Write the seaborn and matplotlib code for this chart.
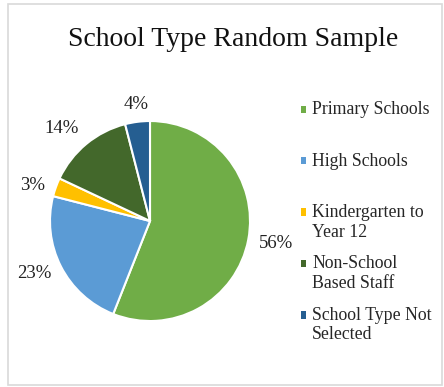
import numpy as np
import seaborn as sns
import matplotlib.pyplot as plt
from matplotlib.patches import Patch, Rectangle
from matplotlib.legend_handler import HandlerPatch

categories = ['Primary Schools', 'High Schools', 'Kindergarten to\nYear 12',
              'Non-School\nBased Staff', 'School Type Not\nSelected']
shares = [56, 23, 3, 14, 4]
colors = ['#70AD47', '#5B9BD5', '#FFC000', '#43682B', '#255E91']

sns.set_theme(style='white')
plt.rcParams['font.family'] = ['Liberation Serif', 'DejaVu Serif']

fig = plt.figure(figsize=(4.44, 3.87), dpi=100)
ax = fig.add_axes([0.1126, 0.1705, 0.4505, 0.5168])

wedges, _ = ax.pie(
    shares,
    colors=sns.color_palette(colors),
    startangle=90,
    counterclock=False,
    wedgeprops=dict(edgecolor='white', linewidth=1.5),
)
ax.set_xlim(-1, 1)
ax.set_ylim(-1, 1)

# data labels just outside each slice, like Excel's "outside end"
for w, s in zip(wedges, shares):
    ang = np.deg2rad((w.theta1 + w.theta2) / 2)
    dx, dy = np.cos(ang), np.sin(ang)
    ha = 'left' if dx > 0.3 else 'right' if dx < -0.3 else 'center'
    va = 'bottom' if dy > 0.5 else 'top' if dy < -0.5 else 'center'
    ax.annotate(f'{s}%', xy=(dx, dy), xytext=(8 * dx, 8 * dy - 1.5),
                textcoords='offset points', ha=ha, va=va,
                fontsize=13.5, color='#222222')

fig.text(0.525, 0.897, 'School Type Random Sample', ha='center', va='center',
         fontsize=20, color='#111111')


def top_square(legend, orig_handle, xdescent, ydescent, width, height, fontsize):
    # put the marker next to the first line of the label
    return Rectangle((-xdescent, -ydescent + 7.5), width, height)


# every label gets two lines so the entries are evenly spaced
labels = [c if '\n' in c else c + '\n' for c in categories]
handles = [Patch(facecolor=c, edgecolor='none') for c in colors]
fig.legend(handles, labels, loc='upper left', bbox_to_anchor=(0.642, 0.7795),
           frameon=False, fontsize=12.8, handlelength=0.28, handleheight=0.28,
           handletextpad=0.34, labelspacing=0.83,
           handler_map={Patch: HandlerPatch(patch_func=top_square)})

fig.patches.append(Rectangle((0.018, 0.005), 0.978, 0.985, transform=fig.transFigure,
                             fill=False, edgecolor='#d9d9d9', linewidth=1.2))

fig.savefig('out.png', dpi=100)
